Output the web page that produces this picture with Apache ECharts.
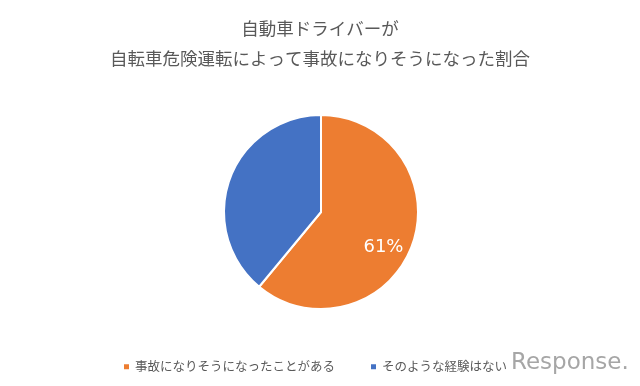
<!DOCTYPE html>
<html><head><meta charset="utf-8">
<script src="https://cdn.jsdelivr.net/npm/echarts@6/dist/echarts.min.js"></script>
<style>html,body{margin:0;padding:0;background:#fff}#c{width:640px;height:386px}</style>
</head><body><div id="c"></div>
<script>
const titleLines = ['自動車ドライバーが', '自転車危険運転によって事故になりそうになった割合'];
const categories = ['事故になりそうになったことがある', 'そのような経験はない'];
const values = [61, 39];
const colors = ['#ED7D31', '#4472C4'];

const chart = echarts.init(document.getElementById('c'));
chart.setOption({
  animation: false,
  title: {
    text: titleLines.join('\n'),
    left: 'center', top: 8,
    textStyle: { fontFamily: 'Noto Sans CJK JP', fontSize: 17.5, fontWeight: 'normal', color: '#595959', lineHeight: 30 }
  },
  legend: {
    bottom: 8, left: 117,
    icon: 'rect', itemWidth: 7, itemHeight: 7, itemGap: 34,
    textStyle: { fontFamily: 'Noto Sans CJK JP', fontSize: 12.5, color: '#595959' },
    data: categories
  },
  series: [{
    type: 'pie',
    center: [321, 212], radius: 97,
    startAngle: 90, clockwise: true,
    itemStyle: { borderColor: '#fff', borderWidth: 2 },
    label: { show: false },
    labelLine: { show: false },
    data: categories.map((n, i) => ({
      name: n, value: values[i],
      itemStyle: { color: colors[i] },
      label: i === 0 ? { show: true, position: 'inside', formatter: '{c}%', color: '#fff', fontSize: 18, fontFamily: 'DejaVu Sans' } : { show: false }
    })),
    labelLayout: { dx: 14, dy: 18 }
  }],
  graphic: [{
    type: 'text', left: 511, top: 352,
    style: { text: 'Response.', fill: '#a6a6a6', font: '23px "DejaVu Sans"' }
  }]
});
</script></body></html>
